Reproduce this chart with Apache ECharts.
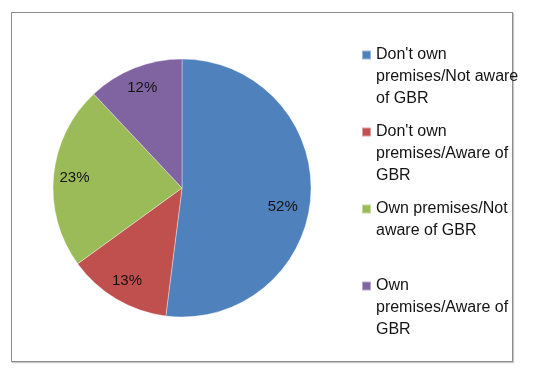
<!DOCTYPE html>
<html>
<head>
<meta charset="utf-8">
<script src="https://cdn.jsdelivr.net/npm/echarts@6/dist/echarts.min.js"></script>
<style>
html,body{margin:0;padding:0;background:#fff;}
#frame{position:absolute;left:11px;top:12px;width:500px;height:348px;border:1.5px solid #8c8c8c;box-shadow:1px 1px 1px #c8c8c8;}
#chart{position:absolute;left:0;top:0;width:550px;height:372px;}
</style>
</head>
<body>
<div id="frame"></div>
<div id="chart"></div>
<script>
const categories = [
  "Don't own premises/Not aware of GBR",
  "Don't own premises/Aware of GBR",
  "Own premises/Not aware of GBR",
  "Own premises/Aware of GBR"
];
const legendLabels = [
  "Don't own\npremises/Not aware\nof GBR",
  "Don't own\npremises/Aware of\nGBR",
  "Own premises/Not\naware of GBR\n ",
  "Own\npremises/Aware of\nGBR"
];
const values = [52, 13, 23, 12];
const colors = ['#4F81BD', '#C0504D', '#9BBB59', '#8064A2'];

const data = categories.map((c, i) => ({ name: c, value: values[i], itemStyle: { color: colors[i] } }));
const labelOffsets = [[-7, 12], [0, 0], [0, 0], [0, 0]];

const chart = echarts.init(document.getElementById('chart'), null, { renderer: 'canvas' });
chart.setOption({
  animation: false,
  backgroundColor: 'transparent',
  legend: {
    orient: 'vertical',
    left: 361,
    top: 43,
    padding: 0,
    itemWidth: 9,
    itemHeight: 66,
    itemGap: 9,
    icon: 'path://M0,6.5h9v9h-9z M0,0h0.001v0.001h-0.001z M0,66h0.001v0.001h-0.001z',
    data: categories,
    formatter: name => legendLabels[categories.indexOf(name)],
    textStyle: {
      fontFamily: 'Liberation Sans',
      fontSize: 16,
      lineHeight: 22,
      color: '#141414'
    }
  },
  series: [
    {
      type: 'pie',
      center: [182, 188],
      radius: [0, 129],
      startAngle: 90,
      clockwise: true,
      silent: true,
      label: { show: false },
      labelLine: { show: false },
      itemStyle: { borderColor: 'rgba(255,255,255,0.45)', borderWidth: 0.8 },
      data: data
    },
    {
      type: 'pie',
      center: [182, 188],
      radius: [81, 129],
      startAngle: 90,
      clockwise: true,
      silent: true,
      itemStyle: { color: 'transparent', opacity: 0 },
      label: {
        show: true,
        position: 'inside',
        formatter: p => p.value + '%',
        fontFamily: 'Liberation Sans',
        fontSize: 15,
        color: '#141414',
        opacity: 1
      },
      labelLine: { show: false },
      data: categories.map((c, i) => ({ name: c, value: values[i], label: { offset: labelOffsets[i] } }))
    }
  ]
});
</script>
</body>
</html>
